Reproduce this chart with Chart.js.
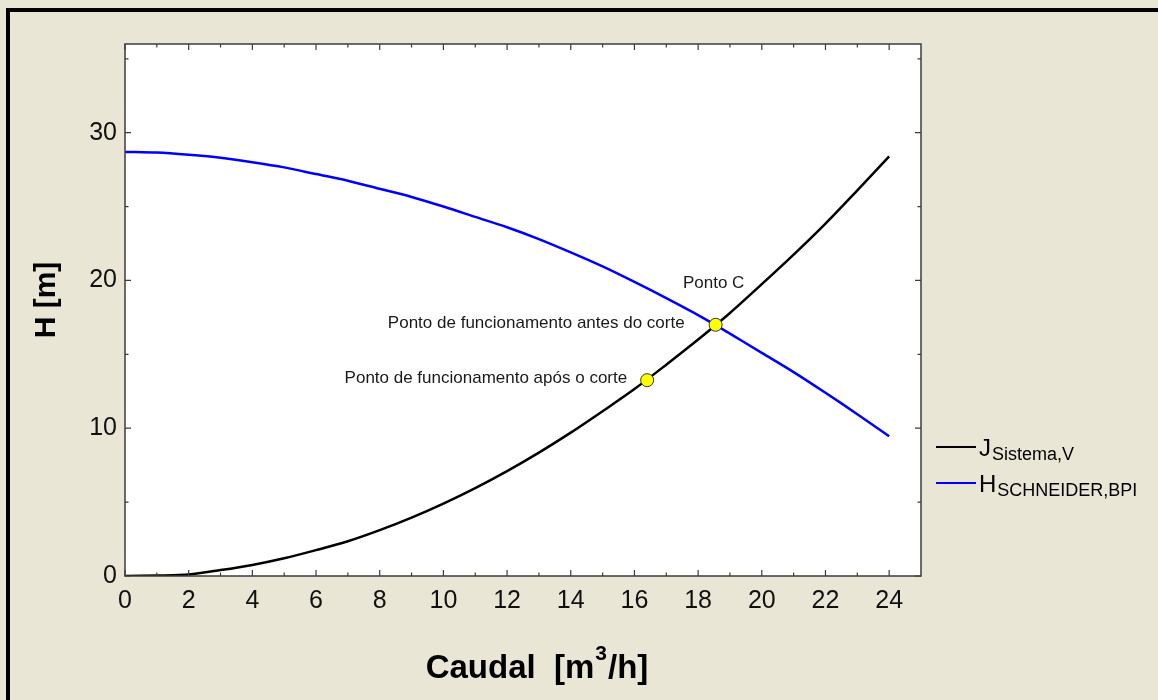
<!DOCTYPE html>
<html><head><meta charset="utf-8">
<script src="https://cdn.jsdelivr.net/npm/chart.js@4.4.0/dist/chart.umd.min.js"></script>
<style>
html,body{margin:0;padding:0;background:#EAE6D6;}
#wrap{position:relative;width:1158px;height:700px;overflow:hidden;background:#EAE6D6;}
#frame{position:absolute;left:6px;top:8px;width:1300px;height:900px;border-top:4px solid #000;border-left:4px solid #000;}
canvas{position:absolute;left:0;top:0;}
</style></head><body>
<div id="wrap"><div id="frame"></div><canvas id="c" width="1158" height="700"></canvas></div>
<script>
// ---- data ----
const caudal      = [0,1,2,3,4,5,6,7,8,9,10,11,12,13,14,15,16,17,18,19,20,21,22,23,24];
const hSchneider  = [28.7,28.65,28.5,28.3,28.0,27.65,27.2,26.75,26.2,25.65,25.0,24.3,23.6,22.8,21.9,20.95,19.9,18.8,17.65,16.4,15.1,13.8,12.4,10.95,9.45];
const jSistema    = [0,0.03,0.1,0.4,0.75,1.2,1.75,2.35,3.1,3.95,4.9,5.95,7.1,8.35,9.7,11.15,12.65,14.3,16.0,17.8,19.75,21.75,23.85,26.1,28.4];
const pontosX     = [18.55,16.4];
const pontosY     = [17.0,13.25];
const pontosTexto = ['Ponto de funcionamento antes do corte','Ponto de funcionamento após o corte'];
const pontoCTexto = 'Ponto C';
const xTicks      = [0,2,4,6,8,10,12,14,16,18,20,22,24];
const xMinor      = [1,3,5,7,9,11,13,15,17,19,21,23];
const yTicks      = [0,10,20,30];
const yMinor      = [5,15,25,35];
const xRange      = [0,25];
const yRange      = [0,36];
const legendMain  = ['J','H'];
const legendSub   = ['Sistema,V','SCHNEIDER,BPI'];
const xTitle      = ['Caudal  [m','3','/h]'];
const yTitle      = 'H [m]';
// ---------------------------------------

const FONT = "'Liberation Sans', Arial, sans-serif";
const toXY = (xs, ys) => xs.map((x,i)=>({x:x,y:ys[i]}));

const decor = {
  id:'decor',
  beforeDraw(chart){
    const {ctx, chartArea:a} = chart;
    ctx.save();
    ctx.fillStyle = '#ffffff';
    ctx.fillRect(a.left, a.top, a.right-a.left, a.bottom-a.top);
    ctx.restore();
  },
  afterDraw(chart){
    const {ctx, chartArea:a, scales} = chart;
    const sx = scales.x, sy = scales.y;
    ctx.save();
    // border
    ctx.strokeStyle = '#3c3c3c';
    ctx.lineWidth = 1.5;
    ctx.strokeRect(a.left, a.top, a.right-a.left, a.bottom-a.top);
    // ticks (inward, all four sides)
    ctx.lineWidth = 1.2;
    ctx.beginPath();
    const tx = (vals, len) => vals.forEach(v=>{
      const p = sx.getPixelForValue(v);
      ctx.moveTo(p, a.bottom); ctx.lineTo(p, a.bottom-len);
      ctx.moveTo(p, a.top); ctx.lineTo(p, a.top+len);
    });
    const ty = (vals, len) => vals.forEach(v=>{
      const p = sy.getPixelForValue(v);
      ctx.moveTo(a.left, p); ctx.lineTo(a.left+len, p);
      ctx.moveTo(a.right, p); ctx.lineTo(a.right-len, p);
    });
    tx(xTicks, 6); tx(xMinor, 3.5); ty(yTicks, 6); ty(yMinor, 3.5);
    ctx.stroke();

    // annotations
    ctx.fillStyle = '#1a1a1a';
    ctx.font = '17px ' + FONT;
    ctx.textBaseline = 'middle';
    ctx.textAlign = 'right';
    const p0x = sx.getPixelForValue(pontosX[0]), p0y = sy.getPixelForValue(pontosY[0]);
    const p1x = sx.getPixelForValue(pontosX[1]), p1y = sy.getPixelForValue(pontosY[1]);
    ctx.fillText(pontosTexto[0], p0x-31, p0y-1);
    ctx.fillText(pontosTexto[1], p1x-20, p1y-2);
    ctx.textAlign = 'center';
    ctx.fillText(pontoCTexto, p0x-2, p0y-41);

    // x title with superscript
    ctx.fillStyle = '#000';
    ctx.textAlign = 'left';
    ctx.textBaseline = 'alphabetic';
    const fMain = 'bold 33px ' + FONT, fSup = 'bold 21px ' + FONT;
    ctx.font = fMain; const w1 = ctx.measureText(xTitle[0]).width, w3 = ctx.measureText(xTitle[2]).width;
    ctx.font = fSup;  const w2 = ctx.measureText(xTitle[1]).width;
    const total = w1+w2+w3+2;
    let xs = (a.left+a.right)/2 + 14 - total/2;
    const base = 678;
    ctx.font = fMain; ctx.fillText(xTitle[0], xs, base);
    ctx.font = fSup;  ctx.fillText(xTitle[1], xs+w1+1, base-18);
    ctx.font = fMain; ctx.fillText(xTitle[2], xs+w1+w2+2, base);

    // y title
    ctx.save();
    ctx.translate(47, 300);
    ctx.rotate(-Math.PI/2);
    ctx.font = 'bold 30px ' + FONT;
    ctx.textAlign = 'center';
    ctx.textBaseline = 'middle';
    ctx.fillText(yTitle, 0, 0);
    ctx.restore();

    // legend
    const cols = ['#000000','#0000ff'];
    const lx = a.right + 15;
    const rows = [447, 483];
    for (let i=0;i<2;i++){
      ctx.strokeStyle = cols[i];
      ctx.lineWidth = 2;
      ctx.beginPath(); ctx.moveTo(lx, rows[i]); ctx.lineTo(lx+40, rows[i]); ctx.stroke();
      ctx.fillStyle = '#000';
      ctx.font = '24px ' + FONT;
      const bl = rows[i] + 9;
      ctx.fillText(legendMain[i], lx+43, bl);
      const mw = ctx.measureText(legendMain[i]).width;
      ctx.font = '18px ' + FONT;
      ctx.fillText(legendSub[i], lx+43+mw+1, bl+4);
    }
    ctx.restore();
  }
};

new Chart(document.getElementById('c'), {
  type:'line',
  data:{
    datasets:[
      {
        label:'Pontos de funcionamento',
        type:'scatter',
        data: toXY(pontosX, pontosY),
        pointRadius:6.5,
        pointBackgroundColor:'#ffff00',
        pointBorderColor:'#333333',
        pointBorderWidth:1,
        showLine:false,
        order:0
      },
      {
        label:'H SCHNEIDER,BPI',
        data: toXY(caudal, hSchneider),
        borderColor:'#0000ff',
        borderWidth:2.5,
        pointRadius:0,
        tension:0.3,
        fill:false,
        order:1
      },
      {
        label:'J Sistema,V',
        data: toXY(caudal, jSistema),
        borderColor:'#000000',
        borderWidth:2.5,
        pointRadius:0,
        tension:0.3,
        fill:false,
        order:2
      }
    ]
  },
  options:{
    responsive:false,
    animation:false,
    events:[],
    layout:{padding:{left:0, top:44, right:237, bottom:0}},
    plugins:{legend:{display:false}, tooltip:{enabled:false}},
    scales:{
      x:{
        type:'linear', min:xRange[0], max:xRange[1],
        grid:{display:false, drawTicks:false},
        border:{display:false},
        afterBuildTicks:(s)=>{ s.ticks = xTicks.map(v=>({value:v})); },
        afterFit:(s)=>{ s.height = 124; },
        ticks:{color:'#111', font:{family:FONT, size:25}, padding:10, maxRotation:0, autoSkip:false}
      },
      y:{
        type:'linear', min:yRange[0], max:yRange[1],
        grid:{display:false, drawTicks:false},
        border:{display:false},
        afterBuildTicks:(s)=>{ s.ticks = yTicks.map(v=>({value:v})); },
        afterFit:(s)=>{ s.width = 125; },
        ticks:{color:'#111', font:{family:FONT, size:25}, padding:8, autoSkip:false}
      }
    }
  },
  plugins:[decor]
});
</script>
</body></html>
